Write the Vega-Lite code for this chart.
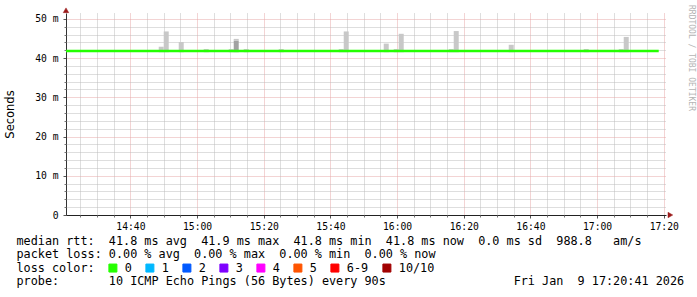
{
  "$schema": "https://vega.github.io/schema/vega-lite/v6.json",
  "width": 600,
  "height": 202,
  "autosize": {"type": "none"},
  "padding": {"left": 66, "top": 13, "right": 31, "bottom": 82},
  "background": "#ffffff",
  "config": {"view": {"stroke": null}},
  "title": {
    "text": "RRDTOOL / TOBI OETIKER",
    "orient": "right",
    "anchor": "start",
    "frame": "group",
    "offset": 3,
    "dx": -8,
    "font": "DejaVu Sans Mono",
    "fontSize": 8,
    "fontWeight": "normal",
    "color": "#b4b4b4"
  },
  "datasets": {
    "smoke": [
      {"start": "2026-01-09T14:48:30Z", "end": "2026-01-09T14:50:00Z", "lo": 41.5, "hi": 42.9, "band": "outer"},
      {"start": "2026-01-09T14:50:00Z", "end": "2026-01-09T14:51:30Z", "lo": 41.5, "hi": 46.8, "band": "outer"},
      {"start": "2026-01-09T14:54:30Z", "end": "2026-01-09T14:56:00Z", "lo": 41.5, "hi": 44.1, "band": "outer"},
      {"start": "2026-01-09T15:02:00Z", "end": "2026-01-09T15:03:30Z", "lo": 41.5, "hi": 42.3, "band": "outer"},
      {"start": "2026-01-09T15:09:30Z", "end": "2026-01-09T15:11:00Z", "lo": 41.5, "hi": 42.3, "band": "outer"},
      {"start": "2026-01-09T15:11:00Z", "end": "2026-01-09T15:12:30Z", "lo": 41.5, "hi": 44.4, "band": "inner"},
      {"start": "2026-01-09T15:11:00Z", "end": "2026-01-09T15:12:30Z", "lo": 44.4, "hi": 44.9, "band": "outer"},
      {"start": "2026-01-09T15:14:00Z", "end": "2026-01-09T15:15:30Z", "lo": 41.5, "hi": 42.3, "band": "outer"},
      {"start": "2026-01-09T15:24:30Z", "end": "2026-01-09T15:26:00Z", "lo": 41.5, "hi": 42.3, "band": "outer"},
      {"start": "2026-01-09T15:42:30Z", "end": "2026-01-09T15:44:00Z", "lo": 41.5, "hi": 42.3, "band": "outer"},
      {"start": "2026-01-09T15:44:00Z", "end": "2026-01-09T15:45:30Z", "lo": 41.5, "hi": 46.8, "band": "outer"},
      {"start": "2026-01-09T15:56:00Z", "end": "2026-01-09T15:57:30Z", "lo": 41.5, "hi": 43.7, "band": "outer"},
      {"start": "2026-01-09T15:59:00Z", "end": "2026-01-09T16:00:30Z", "lo": 41.5, "hi": 42.3, "band": "outer"},
      {"start": "2026-01-09T16:00:30Z", "end": "2026-01-09T16:02:00Z", "lo": 41.5, "hi": 46.2, "band": "outer"},
      {"start": "2026-01-09T16:15:30Z", "end": "2026-01-09T16:17:00Z", "lo": 41.5, "hi": 42.3, "band": "outer"},
      {"start": "2026-01-09T16:17:00Z", "end": "2026-01-09T16:18:30Z", "lo": 41.5, "hi": 46.9, "band": "outer"},
      {"start": "2026-01-09T16:33:30Z", "end": "2026-01-09T16:35:00Z", "lo": 41.5, "hi": 43.4, "band": "outer"},
      {"start": "2026-01-09T16:56:00Z", "end": "2026-01-09T16:57:30Z", "lo": 41.5, "hi": 42.3, "band": "outer"},
      {"start": "2026-01-09T17:06:30Z", "end": "2026-01-09T17:08:00Z", "lo": 41.5, "hi": 42.3, "band": "outer"},
      {"start": "2026-01-09T17:08:00Z", "end": "2026-01-09T17:09:30Z", "lo": 41.5, "hi": 45.4, "band": "outer"}
    ],
    "rttline": [
      {"time": "2026-01-09T14:20:41Z", "rtt": 41.8, "loss": "0"},
      {"time": "2026-01-09T15:20:00Z", "rtt": 41.8, "loss": "0"},
      {"time": "2026-01-09T16:20:00Z", "rtt": 41.8, "loss": "0"},
      {"time": "2026-01-09T17:18:30Z", "rtt": 41.8, "loss": "0"}
    ]
  },
  "layer": [
    {
      "data": {"name": "smoke"},
      "mark": {"type": "rect"},
      "encoding": {
        "x": {
          "field": "start",
          "type": "temporal",
          "scale": {
            "type": "utc",
            "nice": false,
            "domain": [
              {"year": 2026, "month": 1, "date": 9, "hours": 14, "minutes": 20, "seconds": 41, "utc": true},
              {"year": 2026, "month": 1, "date": 9, "hours": 17, "minutes": 20, "seconds": 41, "utc": true}
            ]
          },
          "axis": {
            "orient": "bottom",
            "values": [1767969600000, 1767970800000, 1767972000000, 1767973200000, 1767974400000, 1767975600000, 1767976800000, 1767978000000, 1767979200000],
            "labelExpr": "utcFormat(datum.value, '%H:%M')",
            "labelFont": "DejaVu Sans Mono",
            "labelFontSize": 9.7,
            "labelColor": "#000000",
            "labelPadding": 3,
            "labelOverlap": false,
            "labelFlush": false,
            "labelBound": false,
            "tickSize": 3,
            "tickColor": "#555555",
            "domainColor": "#222222",
            "grid": true,
            "gridColor": "#e6a8a8",
            "gridDash": [1, 1],
            "title": [
              "median rtt:\u00a0\u00a041.8 ms avg\u00a0\u00a041.9 ms max\u00a0\u00a041.8 ms min\u00a0\u00a041.8 ms now\u00a0\u00a00.0 ms sd\u00a0\u00a0988.8\u00a0\u00a0\u00a0am/s",
              "packet loss: 0.00 % avg\u00a0\u00a00.00 % max\u00a0\u00a00.00 % min\u00a0\u00a00.00 % now",
              "loss color:",
              "probe:\u00a0\u00a0\u00a0\u00a0\u00a0\u00a0\u00a010 ICMP Echo Pings (56 Bytes) every 90s\u00a0\u00a0\u00a0\u00a0\u00a0\u00a0\u00a0\u00a0\u00a0\u00a0\u00a0\u00a0\u00a0\u00a0\u00a0\u00a0\u00a0\u00a0Fri Jan\u00a0\u00a09 17:20:41 2026"
            ],
            "titleFont": "DejaVu Sans Mono",
            "titleFontSize": 11.8,
            "titleFontWeight": "normal",
            "titleColor": "#000000",
            "titleAnchor": "start",
            "titleAlign": "left",
            "titleBaseline": "top",
            "titleX": -50,
            "titleY": 20,
            "titleLineHeight": 13.5
          }
        },
        "x2": {"field": "end"},
        "y": {
          "field": "lo",
          "type": "quantitative",
          "scale": {"domain": [0, 51.5], "nice": false, "zero": true},
          "axis": {
            "orient": "left",
            "values": [0, 10, 20, 30, 40, 50],
            "labelExpr": "datum.value === 0 ? '0  ' : datum.value + ' m'",
            "labelFont": "DejaVu Sans Mono",
            "labelFontSize": 9.7,
            "labelColor": "#000000",
            "labelPadding": 5,
            "labelOverlap": false,
            "labelFlush": false,
            "labelBound": false,
            "tickSize": 3,
            "tickColor": "#555555",
            "domainColor": "#333333",
            "grid": true,
            "gridColor": "#e6a8a8",
            "gridDash": [1, 1],
            "title": "Seconds",
            "titleFont": "DejaVu Sans",
            "titleFontSize": 11.5,
            "titleFontWeight": "normal",
            "titleColor": "#000000",
            "titleAngle": -90,
            "titleAlign": "center",
            "titleBaseline": "middle",
            "titleX": -56,
            "titleY": 101
          }
        },
        "y2": {"field": "hi"},
        "fill": {"condition": {"test": "datum.band === 'inner'", "value": "#a2a2a2"}, "value": "#c8c8c8"}
      }
    },
    {
      "data": {"name": "rttline"},
      "mark": {"type": "line", "strokeWidth": 2.4},
      "encoding": {
        "x": {
          "field": "time",
          "type": "temporal",
          "axis": {
            "orient": "bottom",
            "values": [1767968700000, 1767969000000, 1767969300000, 1767969900000, 1767970200000, 1767970500000, 1767971100000, 1767971400000, 1767971700000, 1767972300000, 1767972600000, 1767972900000, 1767973500000, 1767973800000, 1767974100000, 1767974700000, 1767975000000, 1767975300000, 1767975900000, 1767976200000, 1767976500000, 1767977100000, 1767977400000, 1767977700000, 1767978300000, 1767978600000, 1767978900000],
            "labels": false,
            "domain": false,
            "ticks": true,
            "tickSize": 2,
            "tickColor": "#777777",
            "grid": true,
            "gridColor": "#bdbdbd",
            "gridDash": [1, 1],
            "title": null
          }
        },
        "y": {
          "field": "rtt",
          "type": "quantitative",
          "axis": {
            "orient": "left",
            "values": [2, 4, 6, 8, 12, 14, 16, 18, 22, 24, 26, 28, 32, 34, 36, 38, 42, 44, 46, 48],
            "labels": false,
            "domain": false,
            "ticks": true,
            "tickSize": 2,
            "tickColor": "#777777",
            "grid": true,
            "gridColor": "#bdbdbd",
            "gridDash": [1, 1],
            "title": null
          }
        },
        "color": {
          "field": "loss",
          "type": "nominal",
          "scale": {
            "domain": ["0", "1", "2", "3", "4", "5", "6-9", "10/10"],
            "range": ["#26ff00", "#00b8ff", "#0059ff", "#7e00ff", "#ff00ff", "#ff5500", "#ff0000", "#a10000"]
          },
          "legend": {
            "orient": "none",
            "legendX": 41,
            "legendY": 249,
            "direction": "horizontal",
            "title": null,
            "padding": 0,
            "symbolType": "square",
            "symbolSize": 64,
            "labelFont": "DejaVu Sans Mono",
            "labelFontSize": 11.8,
            "labelColor": "#000000",
            "labelOffset": 6,
            "columnPadding": 11,
            "encode": {
              "symbols": {
                "update": {
                  "fill": {"scale": "color", "field": "value"},
                  "fillOpacity": {"value": 1},
                  "stroke": {"value": "#000000"},
                  "strokeWidth": {"value": 1},
                  "opacity": {"value": 1}
                }
              }
            }
          }
        }
      }
    },
    {
      "data": {"values": [{"axis": "y"}]},
      "mark": {"type": "point", "shape": "triangle-up", "size": 30, "filled": true, "fill": "#9b1b1b", "stroke": "#9b1b1b", "strokeWidth": 0.5, "opacity": 1},
      "encoding": {
        "x": {"datum": {"year": 2026, "month": 1, "date": 9, "hours": 14, "minutes": 20, "seconds": 41, "utc": true}, "type": "temporal", "axis": null},
        "y": {"datum": 52.2, "type": "quantitative", "axis": null}
      }
    },
    {
      "data": {"values": [{"axis": "x"}]},
      "mark": {"type": "point", "shape": "triangle-right", "size": 30, "filled": true, "fill": "#9b1b1b", "stroke": "#9b1b1b", "strokeWidth": 0.5, "opacity": 1},
      "encoding": {
        "x": {"datum": {"year": 2026, "month": 1, "date": 9, "hours": 17, "minutes": 22, "seconds": 0, "utc": true}, "type": "temporal", "axis": null},
        "y": {"datum": 0, "type": "quantitative", "axis": null}
      }
    }
  ],
  "resolve": {"axis": {"x": "independent", "y": "independent"}}
}
